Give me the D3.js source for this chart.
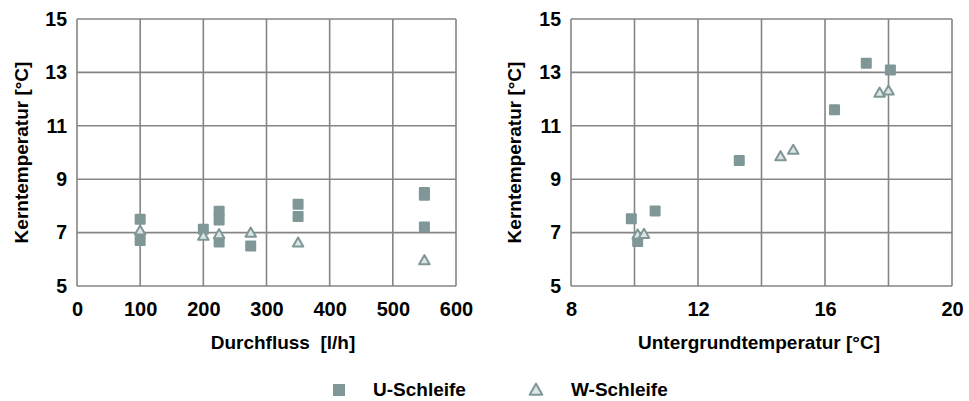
<!DOCTYPE html>
<html>
<head>
<meta charset="utf-8">
<script src="https://cdn.jsdelivr.net/npm/d3@7"></script>
<style>
  html, body { margin: 0; padding: 0; background: #fff; }
  svg text { font-family: "Liberation Sans", Arial, sans-serif; fill: #000; }
</style>
</head>
<body>
<svg id="chart" width="969" height="401"></svg>
<script>
// Core temperature vs. flow rate (left) and vs. ground temperature (right)
const flowTicks = [0, 100, 200, 300, 400, 500, 600];
const groundGrid = [8, 10, 12, 14, 16, 18, 20];
const groundTicks = [8, 12, 16, 20];
const tempTicks = [5, 7, 9, 11, 13, 15];

const uFlow = [100, 100, 200, 225, 225, 225, 275, 350, 350, 550, 550, 550];
const uFlowTemp = [7.5, 6.7, 7.13, 7.8, 7.47, 6.65, 6.5, 8.06, 7.6, 8.5, 8.4, 7.21];
const wFlow = [100, 200, 225, 275, 350, 550];
const wFlowTemp = [7.08, 6.88, 6.94, 7.0, 6.63, 5.97];

const uGround = [9.9, 10.1, 10.65, 13.3, 16.3, 17.3, 18.06];
const uGroundTemp = [7.52, 6.67, 7.81, 9.7, 11.6, 13.34, 13.09];
const wGround = [10.1, 10.3, 14.6, 15.0, 17.72, 18.0];
const wGroundTemp = [6.93, 6.95, 9.86, 10.1, 12.24, 12.32];

const seriesNames = ["U-Schleife", "W-Schleife"];
const yTitle = "Kerntemperatur [°C]";

const markFill = "#7f9796";
const triFill = "#dde5e4";
const gridColor = "#858585";

const svg = d3.select("#chart");

function panel(opts) {
  const x = d3.scaleLinear().domain(opts.xDomain).range([opts.left, opts.right]);
  const y = d3.scaleLinear().domain([5, 15]).range([286, 19]);
  const g = svg.append("g");

  // grid
  g.selectAll("line.vg").data(opts.xGrid).join("line")
    .attr("x1", d => x(d)).attr("x2", d => x(d))
    .attr("y1", y(15)).attr("y2", y(5))
    .attr("stroke", gridColor).attr("stroke-width", 1.6);
  g.selectAll("line.hg").data(tempTicks).join("line")
    .attr("x1", x(opts.xDomain[0])).attr("x2", x(opts.xDomain[1]))
    .attr("y1", d => y(d)).attr("y2", d => y(d))
    .attr("stroke", gridColor).attr("stroke-width", 1.6);

  // y tick labels
  const yAxis = d3.axisLeft(y).tickValues(tempTicks).tickSize(0).tickPadding(opts.yPad);
  const ya = g.append("g").attr("transform", `translate(${opts.left},0)`).call(yAxis);
  ya.select(".domain").remove();
  ya.selectAll("text").attr("font-size", 19.5).attr("font-weight", "bold")
    .attr("font-family", "Liberation Sans, Arial, sans-serif").attr("fill", "#000");

  // x tick labels
  const xAxis = d3.axisBottom(x).tickValues(opts.xTicks).tickSize(0).tickPadding(16);
  const xa = g.append("g").attr("transform", `translate(0,286)`).call(xAxis);
  xa.select(".domain").remove();
  xa.selectAll("text").attr("font-size", 20).attr("font-weight", "bold")
    .attr("font-family", "Liberation Sans, Arial, sans-serif").attr("fill", "#000");

  // axis titles
  g.append("text")
    .attr("x", opts.xTitleX).attr("y", 349)
    .attr("text-anchor", "middle")
    .attr("font-size", 19).attr("font-weight", "bold")
    .text(opts.xTitle);
  g.append("text")
    .attr("transform", `translate(${opts.yTitleX},${(y(15) + y(5)) / 2}) rotate(-90)`)
    .attr("text-anchor", "middle")
    .attr("font-size", 19).attr("font-weight", "bold")
    .text(yTitle);

  // U-loop squares
  const s = 11;
  g.selectAll("rect.u").data(opts.uX).join("rect")
    .attr("x", d => x(d) - s / 2)
    .attr("y", (d, i) => y(opts.uY[i]) - s / 2)
    .attr("width", s).attr("height", s).attr("rx", 1)
    .attr("fill", markFill);

  // W-loop triangles
  const tri = d3.symbol().type(d3.symbolTriangle).size(48);
  g.selectAll("path.w").data(opts.wX).join("path")
    .attr("d", tri)
    .attr("transform", (d, i) => `translate(${x(d)},${y(opts.wY[i]) + 1})`)
    .attr("fill", triFill).attr("stroke", markFill).attr("stroke-width", 2)
    .attr("stroke-linejoin", "round");
}

panel({
  xDomain: [0, 600], left: 77, right: 456,
  xGrid: flowTicks, xTicks: flowTicks,
  uX: uFlow, uY: uFlowTemp, wX: wFlow, wY: wFlowTemp,
  xTitle: "Durchfluss\u00a0\u00a0[l/h]", xTitleX: 283,
  yTitleX: 28, yPad: 10
});

panel({
  xDomain: [8, 20], left: 571, right: 952,
  xGrid: groundGrid, xTicks: groundTicks,
  uX: uGround, uY: uGroundTemp, wX: wGround, wY: wGroundTemp,
  xTitle: "Untergrundtemperatur [°C]", xTitleX: 759,
  yTitleX: 521, yPad: 10
});

// legend
const legend = svg.append("g");
legend.append("rect").attr("x", 333).attr("y", 384).attr("width", 12).attr("height", 12)
  .attr("fill", markFill);
legend.append("text").attr("x", 373).attr("y", 396).attr("font-size", 19).attr("font-weight", "bold")
  .text(seriesNames[0]);
legend.append("path").attr("d", d3.symbol().type(d3.symbolTriangle).size(70))
  .attr("transform", "translate(536,391)")
  .attr("fill", triFill).attr("stroke", markFill).attr("stroke-width", 2)
  .attr("stroke-linejoin", "round");
legend.append("text").attr("x", 571).attr("y", 396).attr("font-size", 19).attr("font-weight", "bold")
  .text(seriesNames[1]);
</script>
</body>
</html>
